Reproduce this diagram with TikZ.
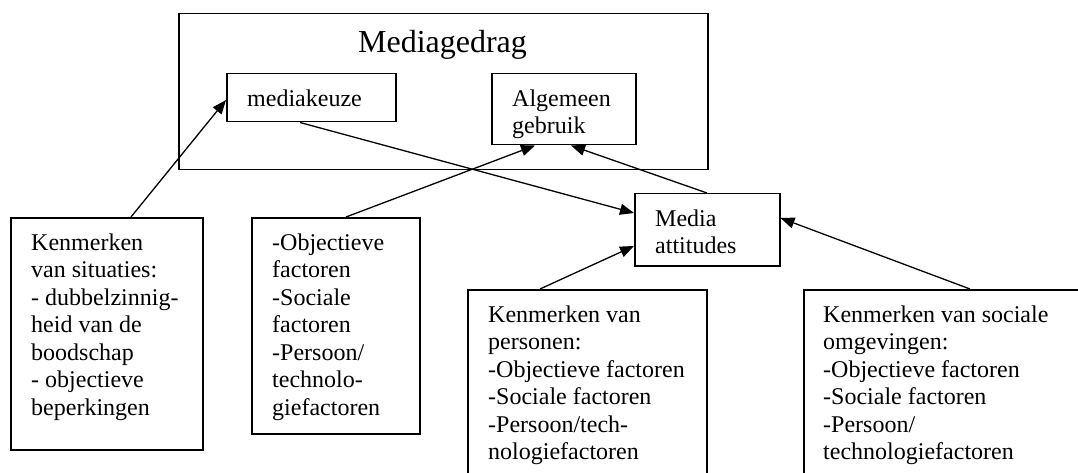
\documentclass[tikz,border=0pt]{standalone}
\usepackage{fontspec}
\setmainfont{Liberation Serif}
\usetikzlibrary{arrows.meta}
\begin{document}
\begin{tikzpicture}[x=1pt,y=-1pt,
  box/.style={draw, line width=1.5pt, inner sep=0pt, anchor=north west},
  txt/.style={inner sep=0pt, anchor=north west, align=left, font=\fontsize{24}{27.5}\selectfont},
  arr/.style={line width=1.3pt, -{Triangle[length=14pt,width=11pt]}}]
\useasboundingbox (0,0) rectangle (1078,473);
\clip (0,0) rectangle (1078,473);
\fill[white] (0,0) rectangle (1078,473);
% boxes
\node[box, minimum width=529pt, minimum height=156pt] (big) at (178,13) {};
\node[box, minimum width=169pt, minimum height=48pt] (mk) at (226,73) {};
\node[box, minimum width=144pt, minimum height=71pt] (alg) at (491,73) {};
\node[box, minimum width=145pt, minimum height=72pt] (att) at (634,193) {};
\node[box, minimum width=192pt, minimum height=232pt] (L) at (10,217) {};
\node[box, minimum width=168pt, minimum height=216pt] (S) at (251,217) {};
\node[box, minimum width=239pt, minimum height=200pt] (P) at (467,289) {};
\node[box, minimum width=300pt, minimum height=200pt] (O) at (803,289) {};
% texts
\node[inner sep=0pt, anchor=base, font=\fontsize{32}{36}\selectfont] (bigT) at (442.5,53) {Mediagedrag};
\node[txt] (mkT) at ([xshift=21pt,yshift=-16.5pt]mk.north west) {mediakeuze};
\node[txt] (algT) at ([xshift=21pt,yshift=-16.5pt]alg.north west) {Algemeen\\gebruik};
\node[txt] (attT) at ([xshift=21pt,yshift=-16.5pt]att.north west) {Media\\attitudes};
\node[txt] (LT) at ([xshift=21pt,yshift=-16.5pt]L.north west) {Kenmerken\\van situaties:\\- dubbelzinnig-\\heid van de\\boodschap\\- objectieve\\beperkingen};
\node[txt] (ST) at ([xshift=21pt,yshift=-16.5pt]S.north west) {-Objectieve\\factoren\\-Sociale\\factoren\\-Persoon/\\technolo-\\giefactoren};
\node[txt] (PT) at ([xshift=21pt,yshift=-16.5pt]P.north west) {Kenmerken van\\personen:\\-Objectieve factoren\\-Sociale factoren\\-Persoon/tech-\\nologiefactoren};
\node[txt] (OT) at ([xshift=20pt,yshift=-16.5pt]O.north west) {Kenmerken van sociale\\omgevingen:\\-Objectieve factoren\\-Sociale factoren\\-Persoon/\\technologiefactoren};
% arrows
\draw[arr] ([xshift=121pt]L.north west) -- ([yshift=-27pt]mk.north west);
\draw[arr] ([xshift=74pt]mk.south west) -- ([yshift=-20pt]att.north west);
\draw[arr] ([xshift=95pt]S.north west) -- ([xshift=44pt]alg.south west);
\draw[arr] ([xshift=73pt]att.north west) -- ([xshift=80pt]alg.south west);
\draw[arr] ([xshift=73pt]P.north west) -- ([yshift=-53pt]att.north west);
\draw[arr] ([xshift=167pt]O.north west) -- ([yshift=-25pt]att.north east);
\end{tikzpicture}
\end{document}
